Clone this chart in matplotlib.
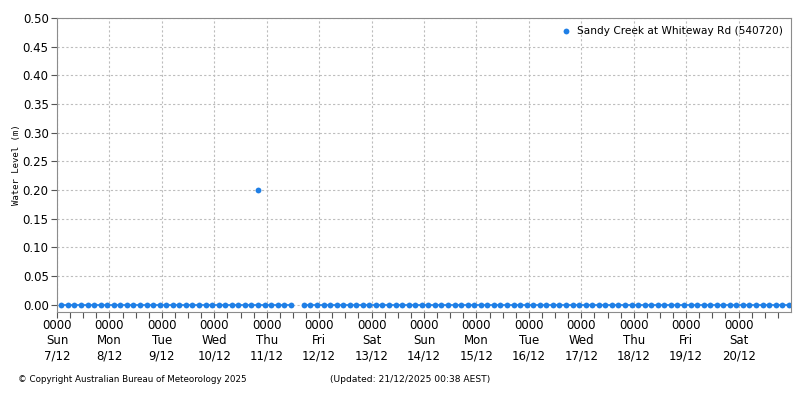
import numpy as np
import matplotlib.pyplot as plt
import matplotlib.dates as mdates
from matplotlib.lines import Line2D
import pandas as pd

# 3-hourly readings (02:00, 05:00, ...), one missing at 11/12 14:00
times = pd.date_range("2025-12-07 02:00", "2025-12-20 23:00", freq="3h")
missing = pd.Timestamp("2025-12-11 14:00")
levels = [np.nan if t == missing else 0.0 for t in times]

# one odd reading
spike_time = [pd.Timestamp("2025-12-10 20:10")]
spike_level = [0.20]

station = "Sandy Creek at Whiteway Rd (540720)"

day_ticks = pd.date_range("2025-12-07", "2025-12-20", freq="D")
day_labels = ["0000\n" + d.strftime("%a") + "\n" + str(d.day) + "/" + str(d.month) for d in day_ticks]

blue = "#1f7fe6"
grey = "#8c8c8c"

fig = plt.figure(figsize=(8, 4), dpi=100)
ax = fig.add_axes([57 / 800, 1 - 312 / 400, (791 - 57) / 800, (312 - 18) / 400])

ax.plot(times, levels, "o-", color=blue, markersize=4.2, markeredgewidth=0, linewidth=1.2)
ax.plot(spike_time, spike_level, "o", color=blue, markersize=4.2, markeredgewidth=0)

ax.set_xlim(pd.Timestamp("2025-12-07"), pd.Timestamp("2025-12-21"))
ax.set_ylim(-0.0125, 0.5)
ax.set_yticks(np.arange(0, 0.501, 0.05))
ax.set_yticklabels(["%.2f" % v for v in np.arange(0, 0.501, 0.05)], fontsize=8.5)
ax.set_xticks(day_ticks)
ax.set_xticklabels(day_labels, fontsize=8.5, linespacing=1.25)
ax.xaxis.set_minor_locator(mdates.HourLocator(byhour=[6, 12, 18]))

ax.grid(True, which="major", color="#bdbdbd", linestyle=(0, (2, 2)), linewidth=0.8)
for s in ax.spines.values():
    s.set_color(grey)
ax.tick_params(which="both", color="#555555", length=4, width=0.8, pad=2)
ax.tick_params(axis="x", which="major", length=4, pad=1)

ax.set_ylabel("Water Level (m)", family="DejaVu Sans Mono", fontsize=6.5, labelpad=1)

handle = Line2D([], [], linestyle="none", marker="o", color=blue, markersize=4.2, markeredgewidth=0)
ax.legend([handle], [station], loc="upper right", frameon=False, fontsize=7.6,
          handletextpad=0.5, borderaxespad=0.4, handlelength=1.0)

fig.text(18 / 800, 1 - 380 / 400, "\u00a9 Copyright Australian Bureau of Meteorology 2025",
         fontsize=6.3, va="center")
fig.text(330 / 800, 1 - 380 / 400, "(Updated: 21/12/2025 00:38 AEST)", fontsize=6.6, va="center")

fig.savefig("out.png", dpi=100)
